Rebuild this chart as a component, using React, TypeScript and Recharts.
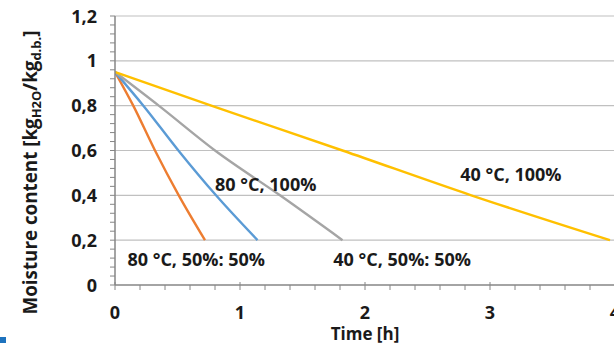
import { LineChart, Line, XAxis, YAxis, ReferenceLine, ReferenceDot } from 'recharts';

// drying curves, time in hours, moisture in kg H2O / kg d.b.
const hours80Mix = [0, 0.146, 0.32, 0.51, 0.72];
const moisture80Mix = [0.95, 0.8, 0.6, 0.4, 0.2];
const hours80Full = [0, 0.227, 0.507, 0.808, 1.14];
const moisture80Full = [0.95, 0.8, 0.6, 0.4, 0.2];
const hours40Mix = [0, 0.35, 0.8, 1.32, 1.82];
const moisture40Mix = [0.95, 0.8, 0.6, 0.4, 0.2];
const hours40Full = [0, 0.77, 1.82, 2.85, 3.96];
const moisture40Full = [0.95, 0.8, 0.6, 0.4, 0.2];

const xMajorTicks = [0, 1, 2, 3, 4];
const xMinorTicks = [0, 0.2, 0.4, 0.6, 0.8, 1, 1.2, 1.4, 1.6, 1.8, 2, 2.2, 2.4, 2.6, 2.8, 3, 3.2, 3.4, 3.6, 3.8, 4];
const yMajorTicks = [0, 0.2, 0.4, 0.6, 0.8, 1, 1.2];
const yMinorTicks = [
  0, 0.04, 0.08, 0.12, 0.16, 0.2, 0.24, 0.28, 0.32, 0.36, 0.4, 0.44, 0.48, 0.52, 0.56, 0.6,
  0.64, 0.68, 0.72, 0.76, 0.8, 0.84, 0.88, 0.92, 0.96, 1, 1.04, 1.08, 1.12, 1.16, 1.2,
];

const annotations = [
  { x: 1.206, y: 0.446, text: '80 °C, 100%' },
  { x: 3.167, y: 0.491, text: '40 °C, 100%' },
  { x: 0.65, y: 0.112, text: '80 °C, 50%: 50%' },
  { x: 2.297, y: 0.112, text: '40 °C, 50%: 50%' },
];

const toPoints = (xs: number[], ys: number[]) => xs.map((t, i) => ({ t, m: ys[i] }));

const series = [
  { name: '80 °C, 50%: 50%', data: toPoints(hours80Mix, moisture80Mix), color: '#ED7D31' },
  { name: '80 °C, 100%', data: toPoints(hours80Full, moisture80Full), color: '#5B9BD5' },
  { name: '40 °C, 50%: 50%', data: toPoints(hours40Mix, moisture40Mix), color: '#A5A5A5' },
  { name: '40 °C, 100%', data: toPoints(hours40Full, moisture40Full), color: '#FFC000' },
];

const FONT = '"Open Sans", sans-serif';
const AXIS = '#868686';
const GRID = '#C0C0C0';
const INK = '#1a1a1a';

const isMajor = (v: number, list: number[]) => list.some((m) => Math.abs(m - v) < 1e-6);
const fmt = (v: number) => String(Math.round(v * 10) / 10).replace('.', ',');

const XTick = (props: any) => {
  const { x, y, payload } = props;
  const major = isMajor(payload.value, xMajorTicks);
  return (
    <g>
      <line x1={x} x2={x} y1={major ? y - 3 : y} y2={y + 5} stroke={AXIS} strokeWidth={1} />
      {major && (
        <text x={x} y={y + 34} textAnchor="middle" fontFamily={FONT} fontWeight={700} fontSize={18} fill={INK}>
          {payload.value}
        </text>
      )}
    </g>
  );
};

const YTick = (props: any) => {
  const { x, y, payload } = props;
  const major = isMajor(payload.value, yMajorTicks);
  return (
    <g>
      <line x1={x - 5} x2={x} y1={y} y2={y} stroke={AXIS} strokeWidth={1} />
      {major && (
        <text x={x - 18} y={y + 6.5} textAnchor="end" fontFamily={FONT} fontWeight={700} fontSize={18} fill={INK}>
          {fmt(payload.value)}
        </text>
      )}
    </g>
  );
};

const YTitle = (props: any) => {
  const vb = props.viewBox || { x: 0, y: 0, width: 0, height: 0 };
  const cx = 37;
  const cy = vb.y + vb.height / 2 + 22;
  return (
    <text
      x={cx}
      y={cy}
      transform={`rotate(-90, ${cx}, ${cy})`}
      textAnchor="middle"
      fontFamily={FONT}
      fontWeight={700}
      fontSize={18.8}
      fill={INK}
    >
      Moisture content [kg
      <tspan fontSize={13} dy={4}>H2O</tspan>
      <tspan dy={-4}>/kg</tspan>
      <tspan fontSize={13} dy={4}>d.b.</tspan>
      <tspan dy={-4}>]</tspan>
    </text>
  );
};

const XTitle = (props: any) => {
  const vb = props.viewBox || { x: 0, y: 0, width: 0, height: 0 };
  return (
    <text
      x={vb.x + vb.width / 2}
      y={vb.y + 55}
      textAnchor="middle"
      fontFamily={FONT}
      fontWeight={700}
      fontSize={17}
      fill={INK}
    >
      Time [h]
    </text>
  );
};

export default function App() {
  return (
    <div style={{ position: 'absolute', left: 0, top: 0, width: 614, height: 343, overflow: 'hidden', background: '#fff' }}>
      <LineChart width={640} height={343} margin={{ top: 16, right: 25, bottom: 0, left: 0 }}>
        <XAxis
          type="number"
          dataKey="t"
          domain={[0, 4]}
          ticks={xMinorTicks}
          interval={0}
          allowDataOverflow
          height={58}
          tickSize={0}
          tickMargin={0}
          tickLine={false}
          axisLine={{ stroke: AXIS, strokeWidth: 1.5 }}
          tick={<XTick />}
          label={<XTitle />}
        />
        <YAxis
          type="number"
          dataKey="m"
          domain={[0, 1.2]}
          ticks={yMinorTicks}
          interval={0}
          width={115}
          tickSize={0}
          tickMargin={0}
          tickLine={false}
          axisLine={{ stroke: AXIS, strokeWidth: 1.5 }}
          tick={<YTick />}
          label={<YTitle />}
        />
        {yMajorTicks.slice(1).map((v) => (
          <ReferenceLine key={v} y={v} stroke={GRID} strokeWidth={1.2} />
        ))}
        {series.map((s) => (
          <Line
            key={s.name}
            data={s.data}
            dataKey="m"
            type="monotone"
            stroke={s.color}
            strokeWidth={2.4}
            dot={false}
            isAnimationActive={false}
          />
        ))}
        {annotations.map((a) => (
          <ReferenceDot
            key={a.text}
            x={a.x}
            y={a.y}
            r={0}
            fill="none"
            stroke="none"
            label={{ value: a.text, position: 'center', fontFamily: FONT, fontWeight: 700, fontSize: 18, fill: INK }}
          />
        ))}
      </LineChart>
      <div style={{ position: 'absolute', left: 0, top: 337, width: 6, height: 6, background: '#1E73BE' }} />
    </div>
  );
}
